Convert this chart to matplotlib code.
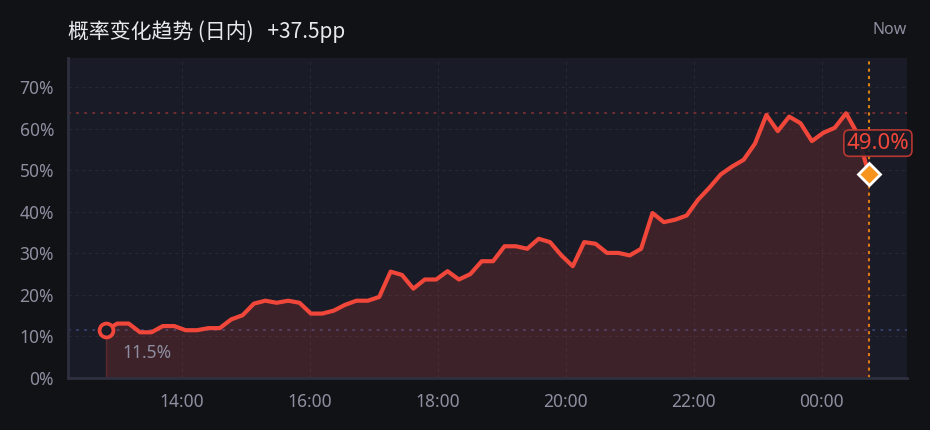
import numpy as np
import matplotlib
matplotlib.use("Agg")
import matplotlib.pyplot as plt

# ---- data ----
title_text = "概率变化趋势 (日内)"
change_text = "+37.5pp"
now_text = "Now"
start_hour = 12.8125     # 12:49
end_hour = 24.734        # 00:44 next day
values = [11.5, 13.1, 13.1, 11.0, 11.0, 12.5, 12.5, 11.5, 11.5, 12.0,
          12.0, 14.1, 15.1, 17.9, 18.6, 18.1, 18.6, 18.1, 15.5, 15.5,
          16.2, 17.6, 18.6, 18.6, 19.5, 25.6, 24.8, 21.5, 23.7, 23.7,
          25.7, 23.7, 25.0, 28.1, 28.1, 31.7, 31.7, 31.1, 33.5, 32.7,
          29.5, 26.9, 32.7, 32.3, 30.1, 30.1, 29.5, 31.1, 39.7, 37.5,
          38.1, 39.1, 42.9, 45.8, 49.0, 50.9, 52.5, 56.4, 63.3, 59.4,
          62.9, 61.3, 57.0, 59.0, 60.2, 63.7, 58.8, 49.0]
x_ticks = [14, 16, 18, 20, 22, 24]
x_tick_labels = ["14:00", "16:00", "18:00", "20:00", "22:00", "00:00"]
y_ticks = [0, 10, 20, 30, 40, 50, 60, 70]
y_tick_labels = ["0%", "10%", "20%", "30%", "40%", "50%", "60%", "70%"]

times = np.linspace(start_hour, end_hour, len(values))
vals = np.array(values)

# ---- style ----
FIG_BG = "#111216"
AX_BG = "#191b27"
RED = "#f0473a"
GREY = "#8d8fa0"
plt.rcParams['font.family'] = ['Noto Sans', 'DejaVu Sans']

fig = plt.figure(figsize=(9.3, 4.3), dpi=100, facecolor=FIG_BG)
ax = fig.add_axes([68/930, 1-378/430, (907-68)/930, (378-58)/430])
ax.set_facecolor(AX_BG)

ax.set_xlim(12.22, 25.33)
ax.set_ylim(0, 77)

# grid
ax.set_xticks(x_ticks)
ax.set_xticklabels(x_tick_labels)
ax.set_yticks(y_ticks)
ax.set_yticklabels(y_tick_labels)
ax.grid(True, color="#262836", linestyle=(0, (3, 3)), linewidth=0.8)
ax.set_axisbelow(True)
ax.tick_params(length=0, colors=GREY, labelsize=12.5)
ax.tick_params(axis='x', pad=11)
ax.tick_params(axis='y', pad=10)
for s in ['top', 'right']:
    ax.spines[s].set_visible(False)
for s in ['left', 'bottom']:
    ax.spines[s].set_color("#2e3040")
    ax.spines[s].set_linewidth(2)

# reference lines
ax.axhline(vals[0], color="#3a4272", linestyle=(0, (1.5, 3)), linewidth=1.3, zorder=1.5)
ax.axhline(vals.max(), color="#7a2f33", linestyle=(0, (1.5, 3)), linewidth=1.3, zorder=1.5)
ax.axvline(times[-1], color="#d9800f", linestyle=(0, (1.5, 2)), linewidth=1.5, zorder=2)

# fill + line
ax.fill_between(times, 0, vals, color=RED, alpha=0.17, linewidth=0, zorder=2)
ax.plot([times[0], times[0]], [0, vals[0]], color=RED, alpha=0.25, lw=1, zorder=2)
ax.plot(times, vals, color=RED, linewidth=3.0, solid_joinstyle='round',
        solid_capstyle='round', zorder=3)

# start marker
ax.plot(times[0], vals[0], marker='o', markersize=10, markerfacecolor=AX_BG,
        markeredgecolor=RED, markeredgewidth=2.7, zorder=4)
ax.annotate(f"{vals[0]:.1f}%", (times[0], vals[0]), xytext=(12, -16.5),
            textcoords='offset points', color=GREY, fontsize=12.5,
            ha='left', va='center', zorder=4)

# end marker
ax.plot(times[-1], vals[-1], marker='D', markersize=11.5, markerfacecolor="#f7941d",
        markeredgecolor="white", markeredgewidth=2, zorder=5, clip_on=False)
ax.annotate(f"{vals[-1]:.1f}%", (times[-1], vals[-1]), xytext=(6.5, 22.5),
            textcoords='offset points', color=RED, fontsize=16,
            ha='center', va='center', zorder=6, annotation_clip=False,
            bbox=dict(boxstyle="round,pad=0.12,rounding_size=0.25",
                      facecolor="#1d1c26", edgecolor="#c83a32",
                      linewidth=1.2, alpha=0.9))

# title
fig.text(68/930, 1-32/430, title_text + "   " + change_text, color="#e8e9ee",
         fontsize=15, ha='left', va='center',
         family=['Noto Sans CJK SC', 'DejaVu Sans'])
fig.text(907/930, 1-30/430, now_text, color=GREY, fontsize=11.5,
         ha='right', va='center')

fig.savefig("out.png", dpi=100, facecolor=FIG_BG)
